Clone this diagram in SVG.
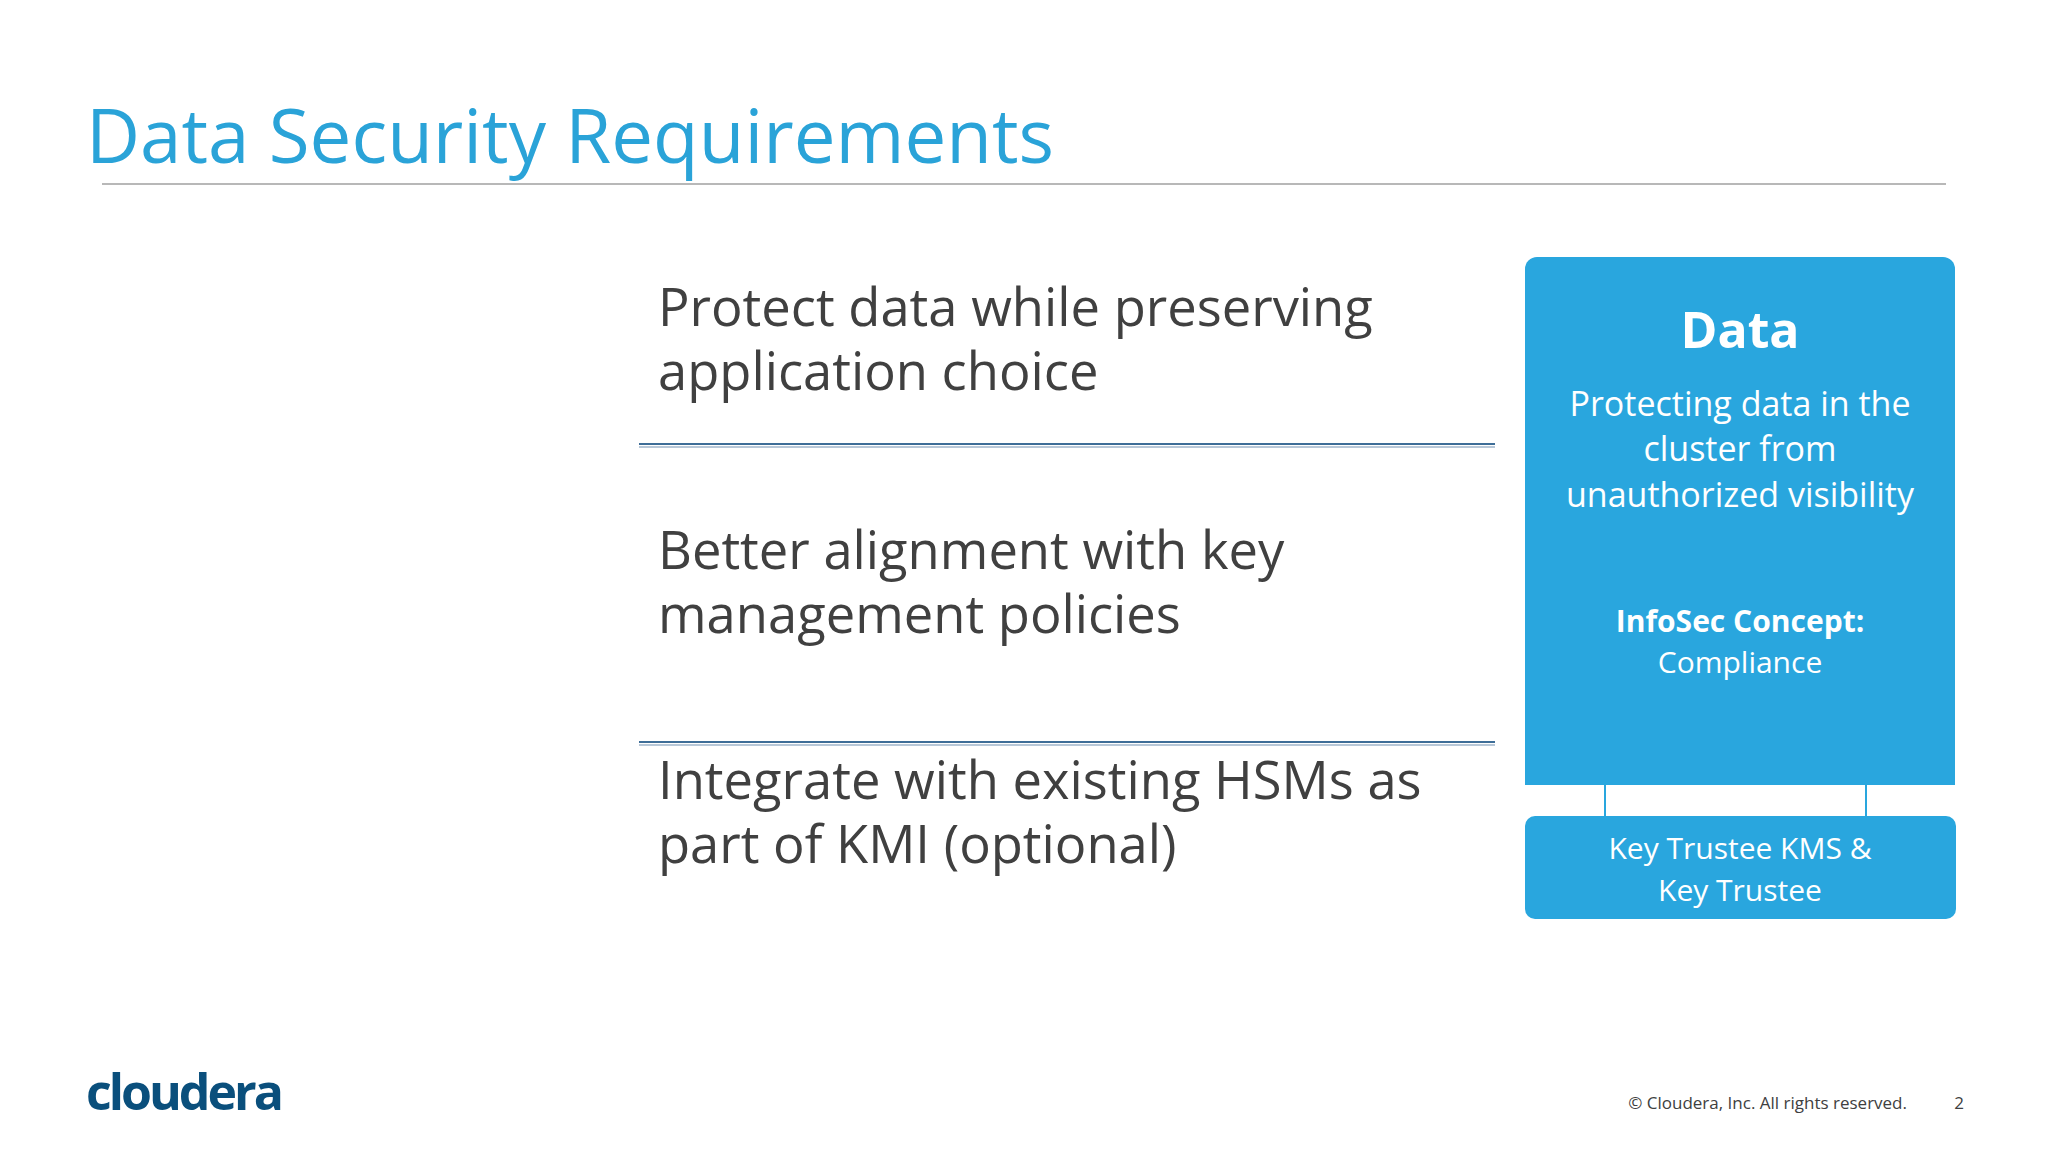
<svg xmlns="http://www.w3.org/2000/svg" width="2048" height="1153" viewBox="0 0 2048 1153">
<style>
.t{font-family:"Open Sans","Noto Sans",sans-serif}
.body{font-size:52.5px;fill:#404040}
.w{fill:#fff;text-anchor:middle}
.box{fill:#29a6de}
</style>
<rect width="2048" height="1153" fill="#fff"/>
<text class="t" x="86" y="163" font-size="74.5" fill="#2aa3d8">Data Security Requirements</text>
<line x1="102" y1="184" x2="1946" y2="184" stroke="#a0a0a0" stroke-width="1.5"/>
<g id="items">
<text class="t body" x="658" y="326">Protect data while preserving</text>
<text class="t body" x="658" y="390">application choice</text>
<text class="t body" x="658" y="569">Better alignment with key</text>
<text class="t body" x="658" y="633">management policies</text>
<text class="t body" x="658" y="799">Integrate with existing HSMs as</text>
<text class="t body" x="658" y="863">part of KMI (optional)</text>
<line x1="639" y1="444" x2="1495" y2="444" stroke="#3e6e98" stroke-width="2"/>
<line x1="639" y1="447" x2="1495" y2="447" stroke="#b8c8d8" stroke-width="2"/>
<line x1="639" y1="742" x2="1495" y2="742" stroke="#3e6e98" stroke-width="2"/>
<line x1="639" y1="745" x2="1495" y2="745" stroke="#b8c8d8" stroke-width="2"/>
</g>
<g id="connectors">
<line x1="1605" y1="785" x2="1605" y2="816" stroke="#29a6de" stroke-width="2"/>
<line x1="1866" y1="785" x2="1866" y2="816" stroke="#29a6de" stroke-width="2"/>
</g>
<g id="data">
<path class="box" d="M1537 257H1943A12 12 0 0 1 1955 269V785H1525V269A12 12 0 0 1 1537 257Z"/>
<text class="t w" x="1740" y="348" font-size="50" font-weight="bold">Data</text>
<text class="t w" x="1740" y="416" font-size="34">Protecting data in the</text>
<text class="t w" x="1740" y="461" font-size="34">cluster from</text>
<text class="t w" x="1740" y="507" font-size="34">unauthorized visibility</text>
<text class="t w" x="1740" y="632" font-size="30" font-weight="bold">InfoSec Concept:</text>
<text class="t w" x="1740" y="673" font-size="30">Compliance</text>
</g>
<g id="kms">
<rect class="box" x="1525" y="816" width="431" height="103" rx="10"/>
<text class="t w" x="1740" y="859" font-size="30">Key Trustee KMS &amp;</text>
<text class="t w" x="1740" y="901" font-size="30">Key Trustee</text>
</g>
<text class="t" x="86" y="1110" font-size="50" font-weight="bold" fill="#0a4f7c" letter-spacing="-3">cloudera</text>
<text class="t" x="1907" y="1109" font-size="17" fill="#404040" text-anchor="end">© Cloudera, Inc. All rights reserved.</text>
<text class="t" x="1959" y="1109" font-size="17" fill="#404040" text-anchor="middle">2</text>
</svg>
